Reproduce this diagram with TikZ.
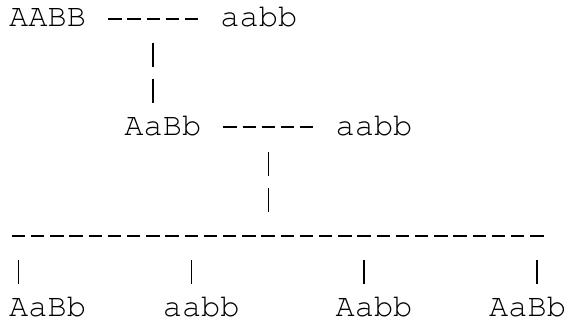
\documentclass[tikz,border=0pt]{standalone}
\usepackage[T1]{fontenc}
\usetikzlibrary{positioning,calc}

\tikzset{
  geno/.style={anchor=base west, inner sep=0pt, font=\fontfamily{pcr}\fontsize{32pt}{36pt}\selectfont},
  hbar/.style={line width=2pt, dash pattern=on 13.3pt off 5.9pt},
  gap/.style={shorten <=22pt, shorten >=22.3pt},
  vbar/.style={line width=1.5pt, dash pattern=on 24pt off 12.2pt, shorten <=16.2pt, shorten >=32.2pt}
}

\begin{document}
\begin{tikzpicture}[x=1pt,y=1pt]
  \def\cw{19.2pt} % width of one character
  \def\lh{36.2pt} % height of one line
  \useasboundingbox (0,0) rectangle (565,-324);
  % parents and first cross
  \node[geno] (AABB) at (9pt, -27pt) {AABB};
  \node[geno] (aabb1) at (9pt+11*\cw, -27pt) {aabb};
  \node[geno] (AaBb) at (9pt+6*\cw, -27pt-3*\lh) {AaBb};
  \node[geno] (aabb2) at (9pt+17*\cw, -27pt-3*\lh) {aabb};
  % offspring of the test cross
  \foreach \c/\t [count=\i] in {0/AaBb, 8/aabb, 17/Aabb, 25/AaBb} {
    \node[geno] (o\i) at (9pt+\c*\cw, -27pt-8*\lh) {\t};
  }
  \draw[hbar, gap] ([yshift=8.3pt]AABB.base east) -- ([yshift=8.3pt]aabb1.base west);
  \coordinate (m1) at ($(AABB.base east)!0.5!(aabb1.base west)$);
  \draw[vbar] (m1) -- (m1 |- AaBb.base);
  \draw[hbar, gap] ([yshift=8.3pt]AaBb.base east) -- ([yshift=8.3pt]aabb2.base west);
  \coordinate (m2) at ($(AaBb.base east)!0.5!(aabb2.base west)$);
  % the long bar
  \coordinate (barL) at (9pt, -27pt-6*\lh);
  \coordinate (barR) at (9pt+28*\cw, -27pt-6*\lh);
  \draw[vbar] (m2) -- (m2 |- barL);
  \draw[hbar, shorten <=2.8pt, shorten >=3.1pt] ([yshift=8.3pt]barL) -- ([yshift=8.3pt]barR);
  \foreach \n/\k in {o1/0.5, o2/1.5, o3/1.5, o4/2.5} {
    \draw[vbar] ([xshift=\k*\cw, yshift=2*\lh]\n.base west) -- ([xshift=\k*\cw]\n.base west);
  }
\end{tikzpicture}
\end{document}
